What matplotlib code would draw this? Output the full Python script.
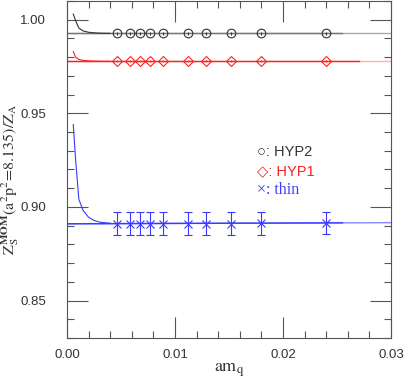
import matplotlib
matplotlib.use("Agg")
import matplotlib.pyplot as plt
from matplotlib.ticker import MultipleLocator, FormatStrFormatter

plt.rcParams['mathtext.fontset'] = 'stix'

# data
am_q = [0.0046, 0.0058, 0.0068, 0.0077, 0.0089, 0.0112, 0.0129, 0.0152, 0.0180, 0.0240]
hyp2 = [0.9927] * 10
hyp2_err = [0.0006] * 10
hyp1 = [0.9778] * 10
hyp1_err = [0.0006] * 10
thin = [0.8911, 0.8911, 0.8911, 0.8911, 0.8911, 0.8911, 0.8911, 0.8911, 0.8912, 0.8913]
thin_err = [0.006] * 10

# fit lines (full range extrapolation and fit range)
fit_x_full = [0.0, 0.03]
fit_hyp2 = [0.9927, 0.9927]
fit_hyp1 = [0.9778, 0.9778]
fit_thin = [0.8910, 0.8916]
fit_x_range_hyp2 = [0.0, 0.0255]
fit_x_range_hyp1 = [0.0, 0.027]
fit_x_range_thin = [0.0, 0.0255]

# small-mass curves
curve_x = [0.00058, 0.0008, 0.0011, 0.0015, 0.0020, 0.0025, 0.0031, 0.0040]
curve_hyp2 = [1.0030, 0.9995, 0.9955, 0.9940, 0.9933, 0.9930, 0.9928, 0.9927]
curve_hyp1 = [0.9830, 0.9800, 0.9788, 0.9783, 0.9780, 0.9779, 0.9778, 0.9778]
curve_thin = [0.9440, 0.9250, 0.9040, 0.8980, 0.8945, 0.8928, 0.8918, 0.8913]

c_k = '#333333'
c_r = '#ff2020'
c_b = '#3a3aff'

fig = plt.figure(figsize=(4.07, 3.88), dpi=100)
ax = fig.add_axes([67/407, 50/388, 324/407, 337/388])

# full range light lines
ax.plot(fit_x_full, fit_hyp2, color='#aaaaaa', lw=1.0)
ax.plot(fit_x_full, fit_hyp1, color='#ffb0b0', lw=1.0)
ax.plot(fit_x_full, fit_thin, color='#8888ff', lw=1.0)
# fit-range lines
ax.plot(fit_x_range_hyp2, [fit_hyp2[0]] * 2, color='#777777', lw=1.0)
ax.plot(fit_x_range_hyp1, [fit_hyp1[0]] * 2, color=c_r, lw=1.0)
ax.plot(fit_x_range_thin, [fit_thin[0], fit_thin[0] + 0.0006 * 0.0255 / 0.03], color=c_b, lw=1.0)

# curves
ax.plot(curve_x, curve_hyp2, color=c_k, lw=0.8)
ax.plot(curve_x, curve_hyp1, color=c_r, lw=0.8)
ax.plot(curve_x, curve_thin, color=c_b, lw=0.8)

ax.errorbar(am_q, hyp2, yerr=hyp2_err, fmt='o', mfc='none', mec=c_k, ecolor=c_k,
            ms=6.2, mew=0.8, elinewidth=0.8, capsize=0)
ax.errorbar(am_q, hyp1, yerr=hyp1_err, fmt='D', mfc='none', mec=c_r, ecolor=c_r,
            ms=4.8, mew=0.8, elinewidth=0.8, capsize=0)
ax.errorbar(am_q, thin, yerr=thin_err, fmt='x', mfc='none', mec=c_b, ecolor=c_b,
            ms=5.5, mew=0.8, elinewidth=0.8, capsize=2.6, capthick=0.8)

ax.set_xlim(0, 0.03)
ax.set_ylim(0.83, 1.01)
ax.xaxis.set_major_locator(MultipleLocator(0.01))
ax.xaxis.set_minor_locator(MultipleLocator(0.002))
ax.yaxis.set_major_locator(MultipleLocator(0.05))
ax.yaxis.set_minor_locator(MultipleLocator(0.01))
ax.xaxis.set_major_formatter(FormatStrFormatter('%.2f'))
ax.yaxis.set_major_formatter(FormatStrFormatter('%.2f'))
ax.tick_params(which='both', direction='in', top=True, right=True, colors='#555555',
               labelcolor='#333333', labelsize=9.5)
ax.tick_params(which='major', length=15, width=0.8)
ax.tick_params(which='minor', length=5, width=0.8)
ax.tick_params(axis='x', pad=8)
ax.tick_params(axis='y', pad=15)
for lab in ax.get_xticklabels() + ax.get_yticklabels():
    lab.set_family('Liberation Sans')
for s in ax.spines.values():
    s.set_color('#555555')
    s.set_linewidth(0.8)

ax.set_xlabel(r'$\mathrm{am_q}$', fontsize=13, color='#333333', labelpad=0)
ax.set_ylabel(r'$\mathrm{Z_S^{\mathbf{MOM}}(a^2p^2\!=\!8.135)/Z_A}$', fontsize=11.5,
              color='#333333', va='center')
ax.yaxis.set_label_coords(-0.176, 0.47)

ax.text(0.0176, 0.9293, '\u25CB: HYP2', color=c_k, fontsize=10.5, va='center',
        family=['Liberation Sans', 'DejaVu Sans'])
ax.text(0.0176, 0.9192, '\u25C7: HYP1', color=c_r, fontsize=10.5, va='center',
        family=['Liberation Sans', 'DejaVu Sans'])
ax.text(0.0176, 0.9090, '\u00D7: thin', color=c_b, fontsize=11.5, va='center',
        family='Liberation Serif')

fig.savefig('out.png', dpi=100)
